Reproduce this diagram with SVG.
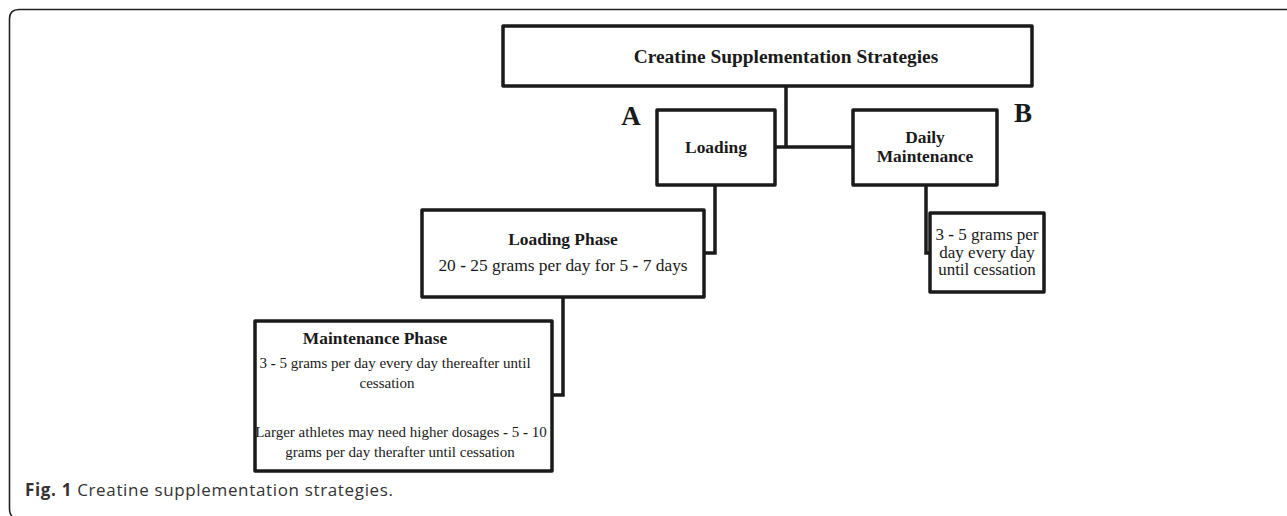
<svg xmlns="http://www.w3.org/2000/svg" width="1287" height="516" viewBox="0 0 1287 516">
<style>
.box{fill:#fff;stroke:#1a1a1a;stroke-width:3.5;stroke-linejoin:round}
.con{fill:none;stroke:#1a1a1a;stroke-width:3.5}
.t{font-family:"Liberation Serif","Times New Roman",serif;font-size:17.4px;fill:#1a1a1a;text-anchor:middle}
.h{font-size:19.4px}
.d{font-size:17px}
.s{font-size:15px}
.b{font-weight:bold}
.lbl{font-family:"Liberation Serif","Times New Roman",serif;font-size:27px;font-weight:bold;fill:#1a1a1a;text-anchor:middle}
.cap{font-family:"Open Sans","Noto Sans",sans-serif;font-size:17px;fill:#333}
</style>
<path d="M1287,9.5 H19 Q9.5,9.5 9.5,19 V508 Q9.5,514 12,516" fill="none" stroke="#222" stroke-width="1.6"/>
<g id="connectors">
<path class="con" d="M786,86 V147 M775,147 H853"/>
<path class="con" d="M715,185 V253 H704"/>
<path class="con" d="M926,185 V253 H930"/>
<path class="con" d="M563,297 V395 H552"/>
</g>
<g id="title">
<rect class="box" x="503" y="26" width="529" height="60"/>
<text class="t b h" x="786" y="63">Creatine Supplementation Strategies</text>
</g>
<g id="labelA"><text class="lbl" x="631" y="125">A</text></g>
<g id="labelB"><text class="lbl" x="1023" y="122">B</text></g>
<g id="loading">
<rect class="box" x="657" y="110" width="118" height="75"/>
<text class="t b" x="716" y="153">Loading</text>
</g>
<g id="daily">
<rect class="box" x="853" y="110" width="144" height="75"/>
<text class="t b" x="925" y="143">Daily</text>
<text class="t b" x="925" y="162">Maintenance</text>
</g>
<g id="loadingPhase">
<rect class="box" x="422" y="210" width="282" height="87"/>
<text class="t b" x="563" y="245">Loading Phase</text>
<text class="t" x="563" y="271">20 <tspan class="b">-</tspan> 25 grams per day for 5 <tspan class="b">-</tspan> 7 days</text>
</g>
<g id="dailySub">
<rect class="box" x="930" y="213" width="114" height="79"/>
<text class="t d" x="987" y="240">3 <tspan class="b">-</tspan> 5 grams per</text>
<text class="t d" x="987" y="257.5">day every day</text>
<text class="t d" x="987" y="275">until cessation</text>
</g>
<g id="maintenancePhase">
<rect class="box" x="255" y="321" width="297" height="150"/>
<text class="t b" x="375" y="344">Maintenance Phase</text>
<text class="t s" x="395" y="368">3 <tspan class="b">-</tspan> 5 grams per day every day thereafter until</text>
<text class="t s" x="387" y="388">cessation</text>
<text class="t s" x="401" y="437">Larger athletes may need higher dosages <tspan class="b">-</tspan> 5 <tspan class="b">-</tspan> 10</text>
<text class="t s" x="400" y="457">grams per day therafter until cessation</text>
</g>
<text class="cap" x="25" y="496" textLength="368" lengthAdjust="spacing"><tspan font-weight="bold">Fig. 1</tspan> Creatine supplementation strategies.</text>
</svg>
